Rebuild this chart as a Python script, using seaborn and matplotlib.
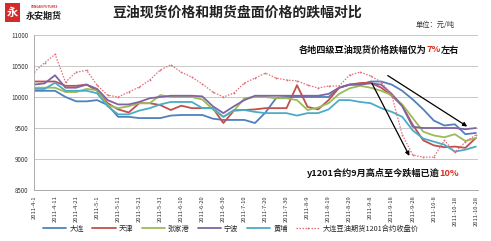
import numpy as np
import pandas as pd
import matplotlib
matplotlib.use("Agg")
import matplotlib.pyplot as plt
import matplotlib.patches as mpatches
import seaborn as sns

sns.set_theme(style="white")
plt.rcParams['font.family'] = ['Noto Sans CJK SC', 'DejaVu Sans']

# ---------------- data ----------------
dates = pd.date_range("2011-04-01", periods=43, freq="5D")

dalian = [10100, 10100, 10100, 10000, 9930, 9930, 9950, 9870, 9680, 9680,
          9660, 9660, 9660, 9700, 9710, 9710, 9710, 9650, 9630, 9630,
          9630, 9580, 9750, 9980, 10000, 10000, 10000, 10000, 10000, 10150,
          10200, 10200, 10250, 10250, 10200, 10100, 9960, 9800, 9620, 9540,
          9560, 9400, 9420]
tianjin = [10250, 10250, 10250, 10180, 10180, 10200, 10100, 9900, 9800, 9750,
           9900, 9900, 9870, 9790, 9860, 9820, 9820, 9820, 9580, 9780,
           9790, 9800, 9820, 9820, 9820, 10190, 9840, 9800, 9950, 10150,
           10200, 10225, 10230, 10150, 10020, 9860, 9550, 9300, 9220, 9190,
           9200, 9180, 9340]
zhangjiagang = [10150, 10150, 10150, 10080, 10080, 10130, 10110, 9870, 9820, 9850,
                9900, 9900, 10030, 10000, 10000, 10000, 9960, 9800, 9680, 9780,
                9980, 10000, 10000, 9980, 9980, 9950, 9790, 9830, 9900, 10050,
                10140, 10180, 10150, 10100, 10030, 9880, 9660, 9440, 9380, 9350,
                9400, 9290, 9340]
ningbo = [10200, 10220, 10350, 10150, 10150, 10200, 10130, 9950, 9880, 9880,
          9920, 9980, 10000, 10020, 10020, 10020, 10010, 9850, 9740, 9850,
          9950, 10020, 10020, 10020, 10020, 10020, 10020, 10020, 10050, 10150,
          10200, 10200, 10220, 10200, 10050, 9850, 9520, 9500, 9500, 9500,
          9500, 9480, 9500]
huangpu = [10130, 10130, 10230, 10100, 10100, 10100, 10060, 9850, 9720, 9720,
           9780, 9820, 9880, 9920, 9920, 9920, 9820, 9820, 9680, 9790,
           9790, 9760, 9740, 9740, 9740, 9700, 9740, 9740, 9800, 9950,
           9950, 9920, 9900, 9820, 9760, 9680, 9460, 9330, 9280, 9230,
           9120, 9150, 9200]
futures = [10400, 10550, 10690, 10240, 10400, 10430, 10190, 10030, 10000, 10080,
           10160, 10275, 10435, 10520, 10400, 10320, 10210, 10080, 10000, 10065,
           10225, 10305, 10385, 10305, 10275, 10260, 10193, 10145, 10177, 10177,
           10355, 10400, 10340, 10240, 10030, 9390, 9065, 9030, 9030, 9300,
           9110, 9275, 9390]

series_names = ["大连", "天津", "张家港", "宁波", "黄埔", "大连豆油期货1201合约收盘价"]
series_vals = [dalian, tianjin, zhangjiagang, ningbo, huangpu, futures]
series_colors = ["#4F81BD", "#C0504D", "#9BBB59", "#8064A2", "#4BACC6", "#E0707A"]

y_ticks = [8500, 9000, 9500, 10000, 10500, 11000]
x_ticks = pd.date_range("2011-04-01", "2011-10-28", freq="10D")
x_labels = [f"{d.year}-{d.month}-{d.day}" for d in x_ticks]

title = "豆油现货价格和期货盘面价格的跌幅对比"
unit = "单位：元/吨"
note1 = [("各地四级豆油现货价格跌幅仅为", "#111111"), ("7%", "#E03020"), ("左右", "#111111")]
note2 = [("y1201合约9月高点至今跌幅已逾", "#111111"), ("10%", "#E03020")]

# ---------------- figure ----------------
W, H = 491, 241
fig = plt.figure(figsize=(W / 100, H / 100), dpi=100)
fig.patch.set_facecolor("white")
ax = fig.add_axes([34 / W, 1 - 190 / H, (478 - 34) / W, (190 - 35) / H])

df = pd.DataFrame({"date": list(dates) * 6,
                   "value": sum(series_vals, []),
                   "series": sum([[n] * len(dates) for n in series_names], [])})

for name, col in zip(series_names, series_colors):
    sub = df[df["series"] == name]
    if name.startswith("大连豆油"):
        sns.lineplot(data=sub, x="date", y="value", ax=ax, color=col,
                     linewidth=0.9, linestyle=(0, (1.2, 1.2)), marker="o",
                     markersize=1.3, markeredgewidth=0, label=name)
    else:
        sns.lineplot(data=sub, x="date", y="value", ax=ax, color=col,
                     linewidth=1.3, label=name)

ax.set_ylim(8500, 11000)
ax.set_yticks(y_ticks)
ax.set_yticklabels([str(v) for v in y_ticks], fontsize=4.5, color="#333333")
ax.set_xlim(pd.Timestamp("2011-04-01"), pd.Timestamp("2011-10-29"))
ax.set_xticks(x_ticks)
ax.set_xticklabels(x_labels, rotation=90, fontsize=4.2, color="#333333")
ax.tick_params(axis="both", length=2, pad=2, colors="#999999", labelcolor="#333333")
ax.set_xlabel("")
ax.set_ylabel("")
ax.grid(axis="y", color="#C8C8C8", linewidth=0.7)
for s in ["top", "right"]:
    ax.spines[s].set_visible(False)
for s in ["left", "bottom"]:
    ax.spines[s].set_color("#AAAAAA")
    ax.spines[s].set_linewidth(0.7)

handles, labels = ax.get_legend_handles_labels()
ax.get_legend().remove()
fig.legend(handles, labels, loc="center", bbox_to_anchor=(0.47, 1 - 229 / H),
           ncol=6, frameon=False, fontsize=5.2, handlelength=3.2,
           columnspacing=1.2, handletextpad=0.4)

# arrows
ax.annotate("", xy=(pd.Timestamp("2011-10-25"), 9500),
            xytext=(pd.Timestamp("2011-09-15"), 10370),
            arrowprops=dict(arrowstyle="-|>", color="black", lw=0.9,
                            mutation_scale=6))
ax.annotate("", xy=(pd.Timestamp("2011-09-27"), 9010),
            xytext=(pd.Timestamp("2011-09-08"), 10260),
            arrowprops=dict(arrowstyle="-|>", color="black", lw=0.9,
                            mutation_scale=6))

# ---------------- texts ----------------
renderer = fig.canvas.get_renderer()


def rich_text(cx, cy, parts, size, weight="bold"):
    """Draw multi-colour text centred at figure-pixel (cx, cy from top)."""
    objs = []
    for txt, col in parts:
        t = fig.text(0, 1 - cy / H, txt, fontsize=size, color=col,
                     fontweight=weight, va="center", ha="left")
        objs.append(t)
    widths = [o.get_window_extent(renderer).width for o in objs]
    x0 = cx - sum(widths) / 2
    for o, w in zip(objs, widths):
        o.set_x(x0 / W)
        x0 += w


fig.text(237 / W, 1 - 13 / H, title, fontsize=10, color="#222222",
         fontweight="bold", ha="center", va="center")
fig.text(435 / W, 1 - 25 / H, unit, fontsize=5.2, color="#333333",
         ha="center", va="center")

# logo
fig.patches.append(mpatches.Rectangle((5 / W, 1 - 22 / H), 15 / W, 19 / H,
                                      transform=fig.transFigure,
                                      facecolor="#D42A2A", edgecolor="none"))
fig.text(12.5 / W, 1 - 12.5 / H, "永", fontsize=8, color="white",
         fontweight="bold", ha="center", va="center")
fig.text(44 / W, 1 - 7 / H, "YONGAN FUTURES", fontsize=2.2, color="#D42A2A",
         fontweight="bold", ha="center", va="center")
fig.text(44 / W, 1 - 16 / H, "永安期货", fontsize=6.5, color="#222222",
         fontweight="bold", ha="center", va="center")

rich_text(379, 50, note1, 6.6)
rich_text(383, 173, note2, 6.6)

fig.savefig("out.png", dpi=100, facecolor="white")
